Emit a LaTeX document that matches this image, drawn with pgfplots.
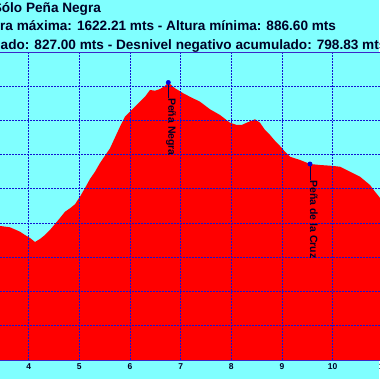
\documentclass[border=0pt]{standalone}
\usepackage{fontspec}
\setmainfont{Liberation Sans}
\usepackage{pgfplots}
\pgfplotsset{compat=1.18}
\definecolor{bgc}{RGB}{128,255,255}
\definecolor{gridc}{RGB}{20,20,210}
\definecolor{axc}{RGB}{60,40,200}
\pgfplotsset{common/.style={
  scale only axis, x=50.67pt, y=0.34222pt,
  xmin=3.2, xmax=11.2, ymin=800, ymax=1700,
  at={(-11.86pt,19pt)}, anchor=south west,
  xtick={3,4,...,11}, ytick={800,900,...,1700}, yticklabels={},
  major tick length=0pt,
  axis line style={draw=axc, line width=0.9pt},
}}
\begin{document}
\begin{tikzpicture}
\fill[bgc] (0,0) rectangle (379pt,379pt);
\begin{axis}[common,
  xticklabel style={font=\fontsize{8.5}{10}\selectfont\bfseries, text=black!85!blue, inner sep=0pt, anchor=north, yshift=-3.2pt},
  /pgf/number format/assume math mode=true,
  axis background/.style={fill=bgc},
]
\addplot[fill=red, draw=none] coordinates {
(3.20,1195) (3.434,1191.6) (3.631,1187.8) (3.829,1174.9) (3.927,1165.3) (4.026,1156.5)
(4.125,1144.8) (4.223,1153.6) (4.322,1165.3) (4.421,1179.9) (4.519,1197.4) (4.618,1214.9)
(4.717,1233.3) (4.816,1243.3) (4.914,1255.0) (5.013,1277.2) (5.112,1302.6) (5.210,1328.9)
(5.309,1350.2) (5.408,1375.7) (5.605,1418.6) (5.802,1481.7) (5.901,1510.9) (6.000,1525.6)
(6.098,1540.2) (6.197,1554.8) (6.296,1569.4) (6.394,1589.0) (6.493,1586.9) (6.592,1591.9)
(6.690,1600.7) (6.756,1611.0) (6.888,1593.9) (7.052,1579.3) (7.184,1569.0) (7.381,1554.8)
(7.578,1532.6) (7.776,1515.9) (7.973,1493.4) (8.105,1486.7) (8.204,1486.7) (8.303,1493.4)
(8.467,1503.4) (8.565,1493.4) (8.664,1472.1) (8.763,1457.5) (8.861,1440.5) (8.960,1425.3)
(9.059,1408.7) (9.157,1394.1) (9.355,1384.4) (9.552,1372.7) (9.750,1369.8) (9.947,1367.8)
(10.144,1364.8) (10.342,1350.2) (10.539,1335.6) (10.736,1311.4) (10.835,1291.8) (10.914,1277.2)
(11.00,1262) (11.20,1230)
} \closedcycle;
\end{axis}
\begin{axis}[common,
  xticklabels={},
  grid=major, grid style={gridc, dash pattern=on 1.5pt off 1.5pt, line width=0.8pt},
]
\draw[black!70!blue, line width=0.6pt] (axis cs:6.756,1611) -- (axis cs:6.756,1566);
\draw[black!70!blue, line width=0.6pt] (axis cs:9.552,1372.7) -- (axis cs:9.552,1326);
\addplot[only marks, mark=*, mark size=2.2pt, color=blue!85!black] coordinates {(6.756,1611) (9.552,1372.7)};
\node[rotate=-90, anchor=base west, inner sep=0pt, font=\fontsize{10.5}{12}\selectfont\bfseries, text=black!85!blue] at (axis cs:6.756,1566) {Peña Negra};
\node[rotate=-90, anchor=base west, inner sep=0pt, font=\fontsize{10.5}{12}\selectfont\bfseries, text=black!85!blue] at (axis cs:9.552,1326) {Peña de la Cruz};
\end{axis}
\begin{scope}[font=\fontsize{13.6}{16}\selectfont\bfseries, text=black!85!blue]
\node[anchor=base west, inner sep=0pt] at (1.7pt,366.6pt) {\llap{S}ólo Peña Negra};
\node[anchor=base west, inner sep=0pt] at (0pt,348pt) {\llap{Altu}ra máxima: 1622.21 mts - Altura mínima: 886.60 mts};
\node[anchor=base west, inner sep=0pt] at (0.5pt,329.8pt) {\llap{Desnivel positivo acumul}ado: 827.00 mts - Desnivel negativo acumulado: 798.83 mts};
\end{scope}
\pgfresetboundingbox
\useasboundingbox (0,0) rectangle (379pt,379pt);
\end{tikzpicture}
\end{document}
